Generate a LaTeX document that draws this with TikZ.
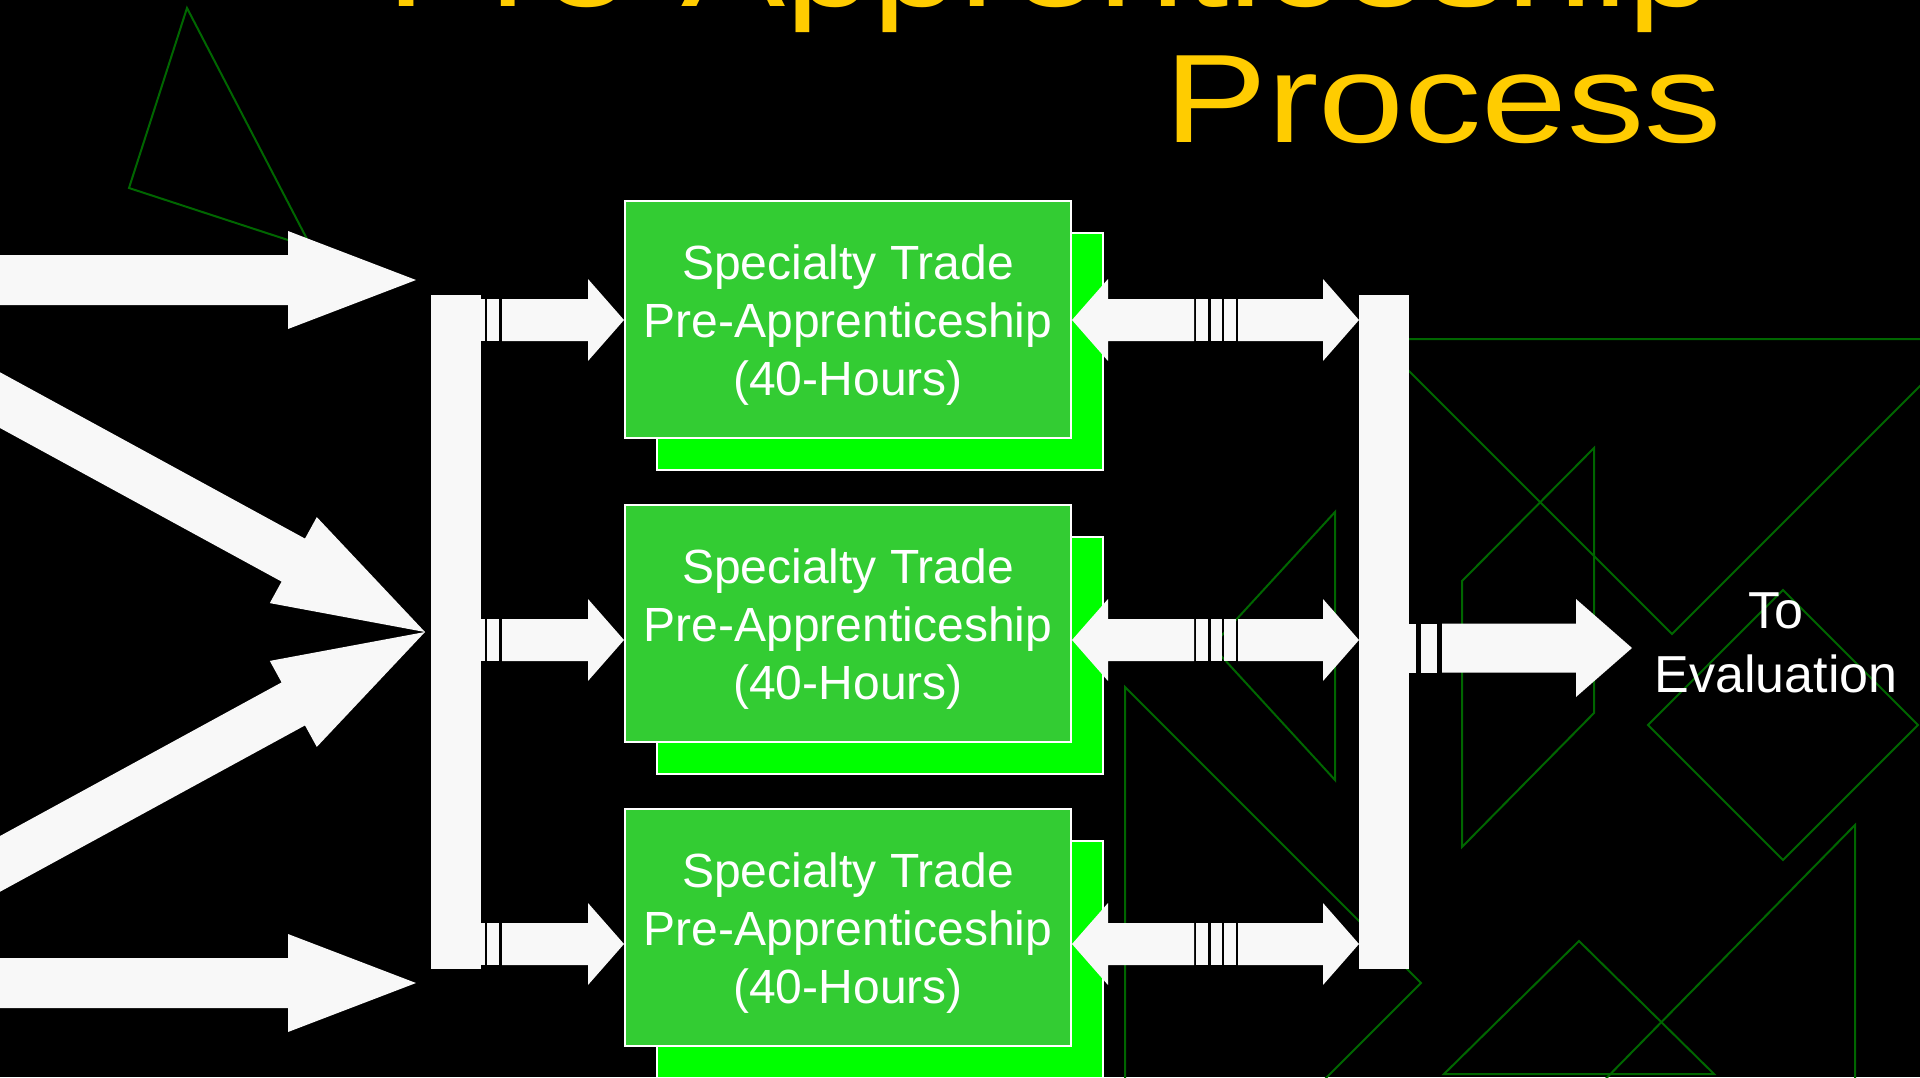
\documentclass[tikz,border=0pt]{standalone}
\usepackage{fontspec}
\usepackage{graphicx}
\setmainfont{Liberation Sans}
\definecolor{arrowwhite}{RGB}{248,248,248}
\definecolor{boxgreen}{RGB}{51,204,51}
\definecolor{shadowgreen}{RGB}{0,255,0}
\definecolor{titlegold}{RGB}{255,204,0}
\definecolor{linegreen}{RGB}{0,102,0}
\begin{document}
\begin{tikzpicture}[x=1pt,y=-1pt,
  bgline/.style={draw=linegreen, line width=2pt, line join=miter},
  blockarrow/.style={fill=arrowwhite, draw=none},
  barnode/.style={fill=arrowwhite, draw=none, minimum width=50pt, minimum height=674pt, inner sep=0pt},
  frontbox/.style={draw=white, line width=2pt, fill=boxgreen, minimum width=446pt, minimum height=237pt, inner sep=0pt},
  shadowbox/.style={draw=white, line width=2pt, fill=shadowgreen, minimum width=446pt, minimum height=237pt, inner sep=0pt},
  boxtext/.style={text=white, align=center, font=\fontsize{48}{58}\selectfont, inner sep=0pt},
  titletext/.style={text=titlegold, anchor=base west, inner sep=0pt, font=\fontsize{126}{130}\selectfont},
]
\useasboundingbox (0,0) rectangle (1920,1077);
\fill[black] (0,0) rectangle (1920,1077);
\clip (0,0) rectangle (1920,1077);

% background decorative lines
\draw[bgline] (187,8) -- (129,188) -- (311.5,247.7) -- cycle;
\draw[bgline] (1377,339) -- (1967,339) -- (1672,634) -- cycle;
\draw[bgline] (1594,448) -- (1462,581) -- (1462,847) -- (1594,713) -- cycle;
\draw[bgline] (1783,590) -- (1648,725) -- (1783,860) -- (1918,725) -- cycle;
\draw[bgline] (1579,941) -- (1444,1074) -- (1714,1074) -- cycle;
\draw[bgline] (1855,1100) -- (1855,825) -- (1578,1107);
\draw[bgline] (1335,512) -- (1212,646) -- (1335,780) -- cycle;
\draw[bgline] (1125,687) -- (1421,983) -- (1125,1279) -- cycle;

% shadow boxes
\node[shadowbox] (s1) at (880,351.5) {};
\node[shadowbox] (s2) at (880,655.5) {};
\node[shadowbox] (s3) at (880,959.5) {};
% front boxes
\node[frontbox] (b1) at (848,319.5) {};
\node[frontbox] (b2) at (848,623.5) {};
\node[frontbox] (b3) at (848,927.5) {};
\node[boxtext] (t1) at (848,325) {Specialty Trade\\Pre-Apprenticeship\\(40-Hours)};
\node[boxtext] (t2) at (848,629) {Specialty Trade\\Pre-Apprenticeship\\(40-Hours)};
\node[boxtext] (t3) at (848,933) {Specialty Trade\\Pre-Apprenticeship\\(40-Hours)};

% bars
\node[barnode] (lbar) at (456,632) {};
\node[barnode] (rbar) at (1384,632) {};

% incoming arrows on the left
\fill[blockarrow] (-10,255) -- (288,255) -- (288,231) -- (416,280) -- (288,329) -- (288,305) -- (-10,305) -- cycle;
\fill[blockarrow] (-10,958) -- (288,958) -- (288,934) -- (416,983) -- (288,1032) -- (288,1008) -- (-10,1008) -- cycle;
\fill[blockarrow] (-90.1,323.1) -- (305.0,538.6) -- (316.8,517.1) -- (425,632) -- (269.8,603.1) -- (281.6,581.6) -- (-113.5,366.1) -- cycle;
\fill[blockarrow] (-90.1,940.9) -- (305.0,725.4) -- (316.8,746.9) -- (425,632) -- (269.8,660.9) -- (281.6,682.4) -- (-113.5,897.9) -- cycle;

% striped arrows bar -> boxes, and double arrows boxes -> right bar
\foreach \c in {320,640,944}{
  \fill[blockarrow] (481,{\c-21}) rectangle (485,{\c+21});
  \fill[blockarrow] (487,{\c-21}) rectangle (499,{\c+21});
  \fill[blockarrow] (502,{\c-21}) -- (588,{\c-21}) -- (588,{\c-41}) -- (624,\c) -- (588,{\c+41}) -- (588,{\c+21}) -- (502,{\c+21}) -- cycle;
  \fill[blockarrow] (1072,\c) -- (1108,{\c-41}) -- (1108,{\c-21}) -- (1194,{\c-21}) -- (1194,{\c+21}) -- (1108,{\c+21}) -- (1108,{\c+41}) -- cycle;
  \fill[blockarrow] (1196,{\c-21}) rectangle (1208,{\c+21});
  \fill[blockarrow] (1211,{\c-21}) rectangle (1222,{\c+21});
  \fill[blockarrow] (1224,{\c-21}) rectangle (1236,{\c+21});
  \fill[blockarrow] (1238,{\c-21}) -- (1323,{\c-21}) -- (1323,{\c-41}) -- (1359,\c) -- (1323,{\c+41}) -- (1323,{\c+21}) -- (1238,{\c+21}) -- cycle;
}

% output arrow
\fill[blockarrow] (1408,623.5) rectangle (1416,672.5);
\fill[blockarrow] (1421,623.5) rectangle (1437,672.5);
\fill[blockarrow] (1442,623.5) -- (1576,623.5) -- (1576,599) -- (1632,648) -- (1576,697) -- (1576,672.5) -- (1442,672.5) -- cycle;

\node[text=white, align=center, inner sep=0pt, font=\fontsize{52}{64}\selectfont] (eval) at (1776,642.5) {To\\Evaluation};

% title
\node[titletext] (title1) at (386,6) {\scalebox{1.24}[1]{Pre-Apprenticeship}};
\node[titletext] (title2) at (1164,142) {\scalebox{1.225}[1]{Process}};
\end{tikzpicture}
\end{document}
